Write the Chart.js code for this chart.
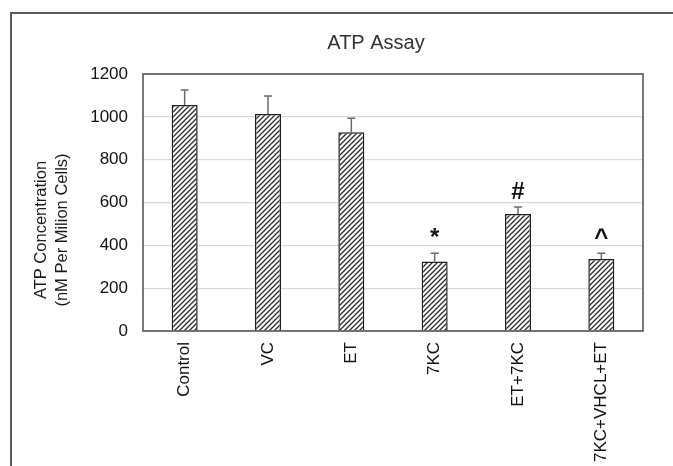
<!DOCTYPE html>
<html lang="en">
	<head>
		<meta charset="UTF-8" />
		<script src="https://cdn.jsdelivr.net/npm/chart.js@4.4.1/dist/chart.umd.min.js"></script>
		<title>ATP Assay</title>
		<style>
			html, body { margin: 0; padding: 0; background: #fff; overflow: hidden; }
			#wrap { width: 673px; height: 466px; }
		</style>
	</head>

	<body>
		<div id="wrap"><canvas id="myChart" width="673" height="466"></canvas></div>
		<script>
			// values
			const categories = ['Control', 'VC', 'ET', '7KC', 'ET+7KC', '7KC+VHCL+ET'];
			const atpMeans = [1055, 1013, 928, 325, 546, 336];
			const atpErrors = [70, 84, 65, 38, 33, 27];
			const sigMarks = ['', '', '', '*', '#', '^'];
			const yMin = 0;
			const yMax = 1200;
			const yStep = 200;

			const FONT = "'Liberation Sans', Arial, sans-serif";

			// diagonal hatch fill like the excel pattern
			function makeHatch() {
				const c = document.createElement('canvas');
				c.width = 5;
				c.height = 5;
				const g = c.getContext('2d');
				g.fillStyle = '#fff';
				g.fillRect(0, 0, 5, 5);
				g.strokeStyle = '#2b2b2b';
				g.lineWidth = 1.3;
				g.beginPath();
				g.moveTo(-1, 6); g.lineTo(6, -1);
				g.moveTo(-3.5, 3.5); g.lineTo(3.5, -3.5);
				g.moveTo(1.5, 8.5); g.lineTo(8.5, 1.5);
				g.stroke();
				return g.createPattern(c, 'repeat');
			}

			// outer frame, plot border, titles, error bars and marks
			const decor = {
				id: 'decor',
				beforeDraw(chart) {
					const ctx = chart.ctx;
					ctx.save();
					ctx.strokeStyle = '#5a5a5a';
					ctx.lineWidth = 2;
					ctx.strokeRect(11, 13, 720, 520);
					ctx.fillStyle = '#333';
					ctx.font = '20px ' + FONT;
					ctx.textAlign = 'center';
					ctx.textBaseline = 'middle';
					ctx.fillText('ATP Assay', 376, 43);
					ctx.fillStyle = '#1a1a1a';
					ctx.font = '16.5px ' + FONT;
					const lines = ['ATP Concentration', '(nM Per Milion Cells)'];
					lines.forEach((t, i) => {
						ctx.save();
						ctx.translate(41 + i * 21, 230);
						ctx.rotate(-Math.PI / 2);
						ctx.fillText(t, 0, 0);
						ctx.restore();
					});
					ctx.restore();
				},
				afterDatasetsDraw(chart) {
					const ctx = chart.ctx;
					const a = chart.chartArea;
					const y = chart.scales.y;
					const meta = chart.getDatasetMeta(0);
					ctx.save();
					// error bars (upper only)
					ctx.strokeStyle = '#6b6b6b';
					ctx.lineWidth = 1.5;
					meta.data.forEach((bar, i) => {
						const top = y.getPixelForValue(atpMeans[i] + atpErrors[i]);
						const base = y.getPixelForValue(atpMeans[i]);
						ctx.beginPath();
						ctx.moveTo(bar.x, base);
						ctx.lineTo(bar.x, top);
						ctx.moveTo(bar.x - 4, top);
						ctx.lineTo(bar.x + 4, top);
						ctx.stroke();
						if (sigMarks[i]) {
							ctx.fillStyle = '#111';
							ctx.font = 'bold 24px ' + FONT;
							ctx.textAlign = 'center';
							ctx.textBaseline = 'alphabetic';
							ctx.fillText(sigMarks[i], bar.x, top - 8);
						}
					});
					// plot area border
					ctx.strokeStyle = '#4d4d4d';
					ctx.lineWidth = 1.5;
					ctx.strokeRect(a.left, a.top, a.right - a.left, a.bottom - a.top);
					ctx.restore();
				}
			};

			const ctx = document.getElementById('myChart').getContext('2d');
			const myChart = new Chart(ctx, {
				type: 'bar',
				data: {
					labels: categories,
					datasets: [
						{
							label: 'ATP',
							data: atpMeans,
							backgroundColor: makeHatch(),
							borderColor: '#1f1f1f',
							borderWidth: 1.5,
							barPercentage: 0.312,
							categoryPercentage: 1
						}
					]
				},
				options: {
					responsive: false,
					animation: false,
					events: [],
					layout: { padding: { top: 74, right: 30, left: 0, bottom: 0 } },
					plugins: {
						legend: { display: false },
						title: { display: false },
						tooltip: { enabled: false }
					},
					scales: {
						x: {
							grid: { display: false, drawTicks: false },
							border: { display: false },
							ticks: {
								color: '#111',
								font: { family: FONT, size: 17 },
								minRotation: 90,
								maxRotation: 90,
								padding: 11,
								autoSkip: false
							},
							afterFit(scale) { scale.height = 135; }
						},
						y: {
							min: yMin,
							max: yMax,
							grid: { color: '#d9d9d9', lineWidth: 1.2, drawTicks: false },
							border: { display: false },
							ticks: {
								stepSize: yStep,
								color: '#111',
								font: { family: FONT, size: 17 },
								padding: 15,
								callback: v => String(v)
							},
							afterFit(scale) { scale.width = 143; }
						}
					}
				},
				plugins: [decor]
			});
		</script>
	</body>
</html>
